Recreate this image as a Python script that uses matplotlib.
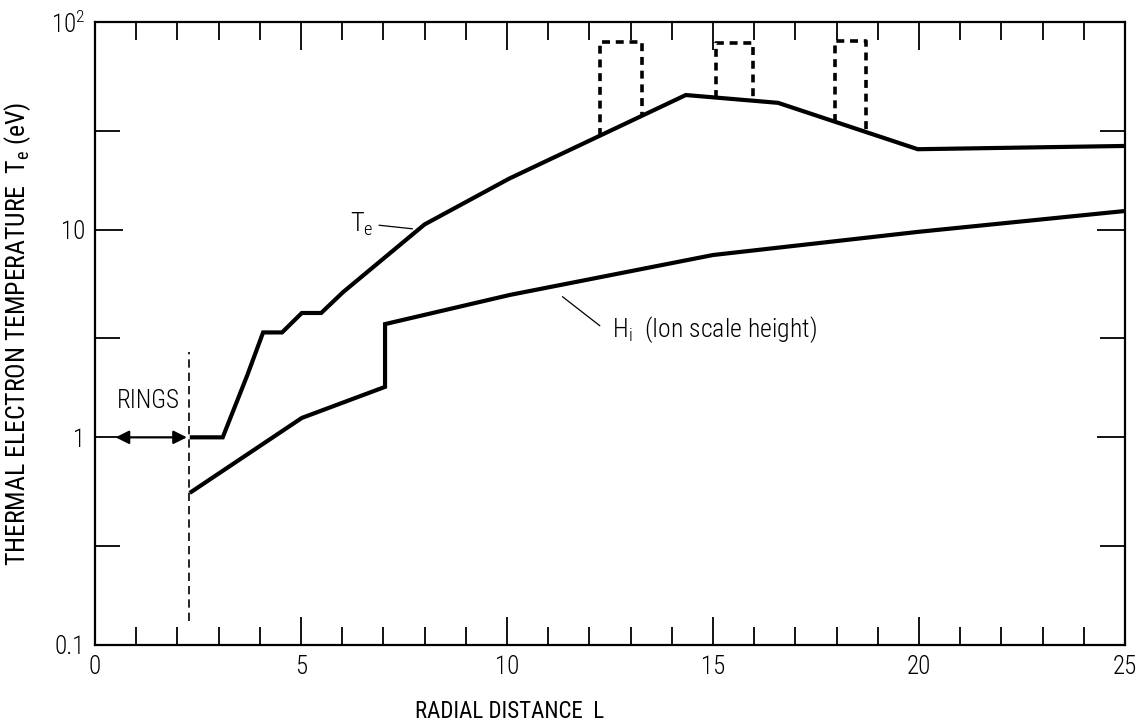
import numpy as np
import matplotlib
matplotlib.use("Agg")
import matplotlib.pyplot as plt
from matplotlib import font_manager as fm
from matplotlib.ticker import FixedLocator, FixedFormatter, MultipleLocator, NullFormatter

# ---------------- data ----------------
te_L = [2.3, 3.1, 3.7, 4.08, 4.54, 5.02, 5.49, 6.02, 8.0, 10.05, 14.34, 16.58, 19.97, 25.0]
te_T = [1.0, 1.0, 2.0, 3.2, 3.2, 3.97, 3.97, 5.0, 10.6, 17.6, 44.5, 40.8, 24.4, 25.3]

hi_L = [2.3, 5.02, 7.04, 7.04, 10.07, 15.0, 20.0, 25.0]
hi_H = [0.54, 1.24, 1.75, 3.51, 4.85, 7.55, 9.77, 12.3]

# dashed boxes above the Te curve: (L_left, L_right, top value)
box_left = [12.26, 15.07, 17.96]
box_right = [13.28, 15.97, 18.71]
box_top = [80.0, 79.0, 81.0]

rings_L = 2.28
rings_span = [0.13, 2.57]

x_ticks_major = [0, 5, 10, 15, 20, 25]
y_ticks = [0.1, 1, 10, 100]
y_ticklabels = ["0.1", "1", "10", "10$^2$"]
y_minor = [0.3, 3, 30]

# ---------------- style ----------------
names = {f.name for f in fm.fontManager.ttflist}
fam = "Liberation Sans"
for cand in ["Roboto Condensed", "Archivo Narrow", "Fira Sans Condensed", "IBM Plex Sans Condensed"]:
    if cand in names:
        fam = cand
        break
plt.rcParams["font.family"] = [fam, "DejaVu Sans"]
plt.rcParams["font.weight"] = "light"
plt.rcParams["mathtext.default"] = "regular"
plt.rcParams["mathtext.fontset"] = "custom"
plt.rcParams["mathtext.rm"] = f"{fam}:light"
plt.rcParams["mathtext.it"] = f"{fam}:light"

fig = plt.figure(figsize=(11.44, 7.27), dpi=100)
ax = fig.add_axes([95/1144, 82/727, 1030/1144, 623/727])
ax.set_yscale("log")
ax.set_xlim(0, 25)
ax.set_ylim(0.1, 100)

lw = 3.0
ax.plot(te_L, te_T, color="black", lw=lw, solid_joinstyle="miter", solid_capstyle="butt")
ax.plot(hi_L, hi_H, color="black", lw=lw, solid_joinstyle="miter", solid_capstyle="butt")

# dashed boxes
logte = np.log10(te_T)
for xl, xr, top in zip(box_left, box_right, box_top):
    bl = 10 ** np.interp(xl, te_L, logte)
    br = 10 ** np.interp(xr, te_L, logte)
    ax.plot([xl, xl, xr, xr], [bl, top, top, br], color="black", lw=2.6,
            linestyle=(0, (2.2, 1.6)), dash_capstyle="butt")

# rings boundary
ax.plot([rings_L, rings_L], rings_span, color="black", lw=1.2, linestyle=(0, (5, 3)))
ax.annotate("", xy=(0.5, 1.0), xytext=(rings_L - 0.05, 1.0),
            arrowprops=dict(arrowstyle="<|-|>", color="black", lw=1.6,
                            mutation_scale=20, shrinkA=0, shrinkB=0))
ax.text(1.3, 1.5, "RINGS", fontsize=18, ha="center", va="center")

# curve labels
ax.text(6.2, 10.6, "T$_e$", fontsize=19, ha="left", va="center")
ax.plot([6.9, 7.7], [10.5, 10.1], color="black", lw=0.9)
ax.text(12.55, 3.3, "H$_i$  (Ion scale height)", fontsize=18.5, ha="left", va="center")
ax.plot([11.35, 12.25], [4.75, 3.45], color="black", lw=0.9)

# ticks
ax.xaxis.set_major_locator(FixedLocator(x_ticks_major))
ax.xaxis.set_minor_locator(MultipleLocator(1))
ax.yaxis.set_major_locator(FixedLocator(y_ticks))
ax.yaxis.set_major_formatter(FixedFormatter(y_ticklabels))
ax.yaxis.set_minor_locator(FixedLocator(y_minor))
ax.yaxis.set_minor_formatter(NullFormatter())
ax.tick_params(which="both", direction="in", top=True, right=True, color="black", width=1.3)
ax.tick_params(which="major", length=20, labelsize=18, pad=7)
ax.tick_params(which="minor", length=13)
ax.tick_params(axis="y", which="minor", length=18)
for s in ax.spines.values():
    s.set_linewidth(1.6)

ax.set_xlabel("RADIAL DISTANCE  L", fontsize=16.5)
ax.xaxis.set_label_coords((510 - 95) / 1030, -0.088)
ax.set_ylabel("THERMAL ELECTRON TEMPERATURE  T$_e$ (eV)", fontsize=18.5)
ax.yaxis.set_label_coords(-0.060, 0.50)

fig.savefig("out.png", dpi=100)
